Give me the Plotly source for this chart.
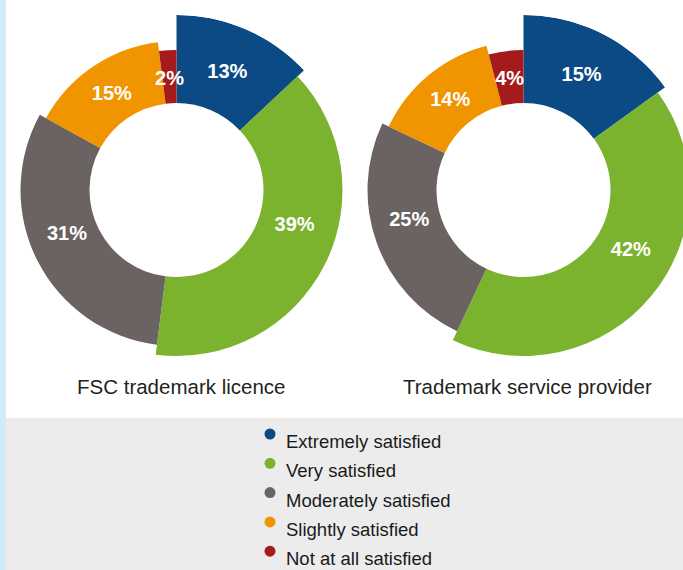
import numpy as np
import plotly.graph_objects as go

# ---------------- data ----------------
categories = ["Extremely satisfied", "Very satisfied", "Moderately satisfied",
              "Slightly satisfied", "Not at all satisfied"]
fsc_licence = [13, 39, 31, 15, 2]
service_provider = [15, 42, 25, 14, 4]
chart_titles = ["FSC trademark licence", "Trademark service provider"]

# ---------------- style ----------------
colors = ["#0b4a84", "#7bb22e", "#6a6361", "#f09400", "#a51b1b"]
outer_r = [175, 166, 156, 149, 140]   # ring thickness differs per category
inner_r = 87
label_shift = [0, -10, 4.5, 0, 0]
FONT = "Liberation Sans, Arial, Helvetica, sans-serif"

W, H = 700, 570
R = 175
centers = [(176.5, 190), (523.5, 190)]

fig = go.Figure()

polar_ids = ["polar", "polar2"]
for vals, (cx, cy), pid in zip([fsc_licence, service_provider], centers, polar_ids):
    total = float(sum(vals))
    widths = np.array([v / total * 360.0 for v in vals])
    starts = np.concatenate([[0.0], np.cumsum(widths)[:-1]])
    mids = starts + widths / 2
    fig.add_trace(go.Barpolar(
        r=[o - inner_r for o in outer_r], base=inner_r, theta=mids, width=widths,
        marker=dict(color=colors, line=dict(width=0)),
        subplot=pid, showlegend=False, hoverinfo="skip"))
    fig.add_trace(go.Scatterpolar(
        r=[(inner_r + o) / 2 - 3 for o in outer_r],
        theta=mids + np.array(label_shift), mode="text",
        text=[f"{v}%" for v in vals],
        textfont=dict(color="white", size=20, family=FONT, weight="bold"),
        subplot=pid, showlegend=False, hoverinfo="skip"))
    fig.layout[pid] = dict(
        domain=dict(x=[(cx - R) / W, (cx + R) / W], y=[1 - (cy + R) / H, 1 - (cy - R) / H]),
        angularaxis=dict(rotation=90, direction="clockwise", visible=False),
        radialaxis=dict(visible=False, range=[0, R]),
        bgcolor="rgba(0,0,0,0)", hole=0, bargap=0)

# legend (dots + labels) on a hidden pixel-scaled cartesian layer
leg_x, leg_y0, leg_dy = 270, 434, 29.3
fig.add_trace(go.Scatter(
    x=[leg_x] * len(categories), y=[leg_y0 + i * leg_dy for i in range(len(categories))],
    mode="markers", marker=dict(color=colors, size=11, line=dict(width=0)),
    showlegend=False, hoverinfo="skip"))

annotations = []
for i, c in enumerate(categories):
    annotations.append(dict(x=leg_x + 14, y=leg_y0 + 7.5 + i * leg_dy, xref="x", yref="y",
                            text=c, showarrow=False, xanchor="left", yanchor="middle",
                            font=dict(size=18.5, color="#1a1a1a", family=FONT)))
for t, (cx, cy) in zip(chart_titles, [(181, 386), (527, 386)]):
    annotations.append(dict(x=cx, y=cy, xref="x", yref="y", text=t, showarrow=False,
                            xanchor="center", yanchor="middle",
                            font=dict(size=20.5, color="#231f20", family=FONT)))

shapes = [
    dict(type="rect", xref="x", yref="y", x0=6, x1=W, y0=418, y1=H,
         fillcolor="#ececec", line=dict(width=0), layer="below"),
    dict(type="rect", xref="x", yref="y", x0=0, x1=6, y0=0, y1=H,
         fillcolor="#d1ebf9", line=dict(width=0), layer="below"),
]

fig.update_layout(
    width=W, height=H, margin=dict(l=0, r=0, t=0, b=0),
    paper_bgcolor="white", plot_bgcolor="rgba(0,0,0,0)",
    xaxis=dict(range=[0, W], visible=False, domain=[0, 1], fixedrange=True),
    yaxis=dict(range=[H, 0], visible=False, domain=[0, 1], fixedrange=True),
    annotations=annotations, shapes=shapes, showlegend=False,
)

fig.write_html(
    "out.html",
    config={"displayModeBar": False},
    post_script="document.body.style.margin='0';document.body.style.overflow='hidden';"
    "document.documentElement.style.overflow='hidden';",
)
